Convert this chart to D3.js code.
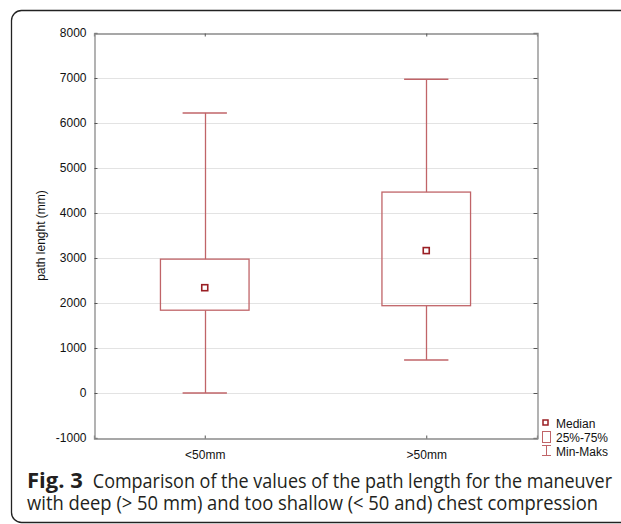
<!DOCTYPE html>
<html>
<head>
<meta charset="utf-8">
<script src="https://cdn.jsdelivr.net/npm/d3@7"></script>
<style>
  html, body { margin: 0; padding: 0; background: #fff; }
  svg { display: block; }
</style>
</head>
<body>
<svg id="chart" width="621" height="524"></svg>
<script>
// Path length per compression-depth group (mm)
const categories = ["<50mm", ">50mm"];
const minValues    = [0,    735];
const q1Values     = [1840, 1940];
const medianValues = [2340, 3165];
const q3Values     = [2975, 4465];
const maxValues    = [6225, 6970];
const yTicks = [-1000, 0, 1000, 2000, 3000, 4000, 5000, 6000, 7000, 8000];
const legendLabels = ["Median", "25%-75%", "Min-Maks"];

(function draw() {
  const svg = d3.select("#chart");

  const boxColor = "#c06468";
  const medColor = "#9a1f24";
  const axisColor = "#8a8a8a";
  const gridColor = "#e3e3e3";
  const fontAx = "'Liberation Sans', Arial, sans-serif";

  // Figure frame (rounded on the left, running off the right edge)
  svg.append("rect")
    .attr("x", 11.5).attr("y", 10.5)
    .attr("width", 640).attr("height", 512)
    .attr("rx", 10).attr("ry", 10)
    .attr("fill", "none").attr("stroke", "#222").attr("stroke-width", 1.3);

  const plot = { left: 94, right: 537, top: 33, bottom: 438 };

  const y = d3.scaleLinear().domain([-1000, 8000]).range([plot.bottom, plot.top]);
  const x = d3.scalePoint().domain(categories).range([plot.left, plot.right]).padding(0.5);
  const plotW = plot.right - plot.left;
  const boxW = plotW * 0.2;
  const capW = plotW * 0.1;

  // Horizontal grid lines
  svg.append("g").selectAll("line").data(yTicks.filter(t => t > -1000 && t < 8000)).join("line")
    .attr("x1", plot.left).attr("x2", plot.right)
    .attr("y1", d => Math.round(y(d)) + 0.5).attr("y2", d => Math.round(y(d)) + 0.5)
    .attr("stroke", gridColor).attr("stroke-width", 1);

  // Left axis with labels, ticks pointing inward
  const axL = svg.append("g").attr("transform", `translate(${plot.left + 0.5},0)`)
    .call(d3.axisLeft(y).tickValues(yTicks).tickSize(-3).tickPadding(8).tickFormat(d => String(d)));
  axL.selectAll("text").attr("font-family", fontAx).attr("font-size", 12).attr("fill", "#111");

  // Right axis: ticks only
  const axR = svg.append("g").attr("transform", `translate(${plot.right + 0.5},0)`)
    .call(d3.axisRight(y).tickValues(yTicks).tickSize(-4).tickFormat(""));

  // Bottom axis: category labels, inward ticks
  const axB = svg.append("g").attr("transform", `translate(0,${plot.bottom + 0.5})`)
    .call(d3.axisBottom(x).tickSize(-3).tickPadding(12));
  axB.selectAll("text").attr("font-family", fontAx).attr("font-size", 12).attr("fill", "#111");

  // Top axis: inward ticks only
  const axT = svg.append("g").attr("transform", `translate(0,${plot.top + 0.5})`)
    .call(d3.axisTop(x).tickSize(-3).tickFormat(""));

  [axL, axR, axB, axT].forEach(g => {
    g.selectAll(".domain").attr("stroke", axisColor).attr("stroke-width", 1.3);
    g.selectAll(".tick line").attr("stroke", "#555");
  });

  // Y-axis title
  svg.append("text")
    .attr("transform", `translate(45,${(plot.top + plot.bottom) / 2}) rotate(-90)`)
    .attr("text-anchor", "middle")
    .attr("font-family", fontAx).attr("font-size", 12).attr("fill", "#111")
    .text("path lenght (mm)");

  // Boxes, whiskers and medians
  const rows = categories.map((c, i) => ({
    c, min: minValues[i], q1: q1Values[i], med: medianValues[i], q3: q3Values[i], max: maxValues[i]
  }));
  const grp = svg.append("g").selectAll("g").data(rows).join("g");
  const cx = d => Math.round(x(d.c)) + 0.5;

  grp.append("line") // upper whisker
    .attr("x1", cx).attr("x2", cx)
    .attr("y1", d => y(d.max)).attr("y2", d => y(d.q3))
    .attr("stroke", boxColor).attr("stroke-width", 1.3);
  grp.append("line") // lower whisker
    .attr("x1", cx).attr("x2", cx)
    .attr("y1", d => y(d.q1)).attr("y2", d => y(d.min))
    .attr("stroke", boxColor).attr("stroke-width", 1.3);
  grp.append("line") // max cap
    .attr("x1", d => x(d.c) - capW / 2).attr("x2", d => x(d.c) + capW / 2)
    .attr("y1", d => y(d.max)).attr("y2", d => y(d.max))
    .attr("stroke", boxColor).attr("stroke-width", 1.5);
  grp.append("line") // min cap
    .attr("x1", d => x(d.c) - capW / 2).attr("x2", d => x(d.c) + capW / 2)
    .attr("y1", d => y(d.min)).attr("y2", d => y(d.min))
    .attr("stroke", boxColor).attr("stroke-width", 1.5);
  grp.append("rect") // interquartile box
    .attr("x", d => x(d.c) - boxW / 2).attr("width", boxW)
    .attr("y", d => y(d.q3)).attr("height", d => y(d.q1) - y(d.q3))
    .attr("fill", "none").attr("stroke", boxColor).attr("stroke-width", 1.3);
  grp.append("rect") // median marker
    .attr("x", d => x(d.c) - 3).attr("y", d => y(d.med) - 3)
    .attr("width", 6).attr("height", 6)
    .attr("fill", "#fff").attr("stroke", medColor).attr("stroke-width", 1.6);

  // Legend
  const lg = svg.append("g");
  lg.append("rect").attr("x", 543).attr("y", 420).attr("width", 5).attr("height", 5)
    .attr("fill", "#fff").attr("stroke", medColor).attr("stroke-width", 1.5);
  lg.append("rect").attr("x", 542.5).attr("y", 431.5).attr("width", 8).attr("height", 11)
    .attr("fill", "none").attr("stroke", boxColor).attr("stroke-width", 1);
  lg.append("path").attr("d", "M542,445.5H551M546.5,445.5V455.5M542,455.5H551")
    .attr("fill", "none").attr("stroke", boxColor).attr("stroke-width", 1);
  lg.selectAll("text").data(legendLabels).join("text")
    .attr("x", 556).attr("y", (d, i) => 428 + i * 14)
    .attr("font-family", fontAx).attr("font-size", 12).attr("fill", "#111")
    .text(d => d);

  // Caption
  const cap = svg.append("g")
    .attr("font-family", "'Open Sans', 'Noto Sans', sans-serif")
    .attr("font-size", 20).attr("fill", "#231f20");
  const fig = cap.append("text").attr("x", 27).attr("y", 488)
    .attr("font-weight", 700).attr("font-size", 22)
    .text("Fig. 3");
  const figEnd = 27 + fig.node().getComputedTextLength();
  const start = figEnd + 10;
  cap.append("text").attr("x", start).attr("y", 488)
    .attr("textLength", 612 - start).attr("lengthAdjust", "spacingAndGlyphs")
    .text("Comparison of the values of the path length for the maneuver");
  cap.append("text").attr("x", 27).attr("y", 510)
    .attr("textLength", 571).attr("lengthAdjust", "spacingAndGlyphs")
    .text("with deep (> 50 mm) and too shallow (< 50 and) chest compression");
})();
</script>
</body>
</html>
